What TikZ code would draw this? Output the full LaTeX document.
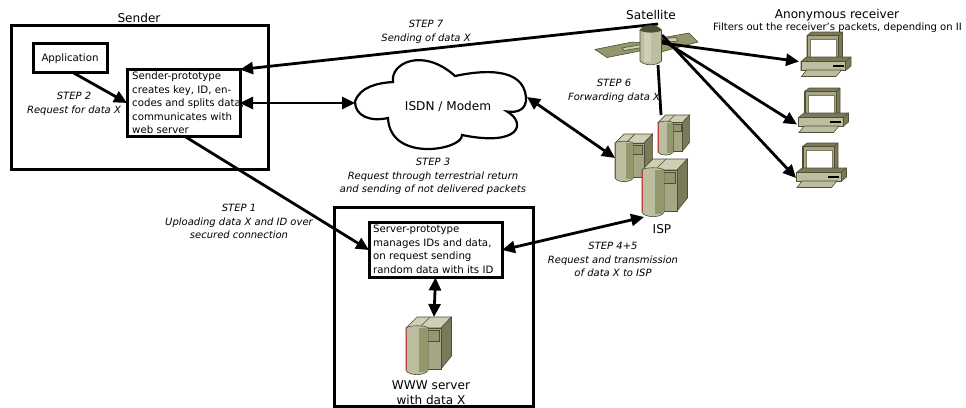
\documentclass[tikz,border=0pt]{standalone}
\usepackage{fontspec}
\setmainfont{DejaVu Sans}
\usetikzlibrary{arrows.meta}
\definecolor{kLight}{HTML}{BDBD9F}
\definecolor{kPale}{HTML}{CFCFB5}
\definecolor{kMid}{HTML}{A6A684}
\definecolor{kStripe}{HTML}{94966C}
\definecolor{kDark}{HTML}{7A7A5A}
\definecolor{kLine}{HTML}{4E4E38}
\definecolor{kRed}{HTML}{B8433A}
\tikzset{
  x=1pt,y=-1pt,
  box/.style={draw=black,line width=3pt,fill=white,outer sep=0pt,inner sep=0pt},
  hit/.style={inner sep=0pt,outer sep=0pt,anchor=north west},
  link/.style={line width=2.8pt,draw=black},
  oneway/.style={link,-{Triangle[length=13pt,width=12pt]}},
  twoway/.style={link,{Triangle[length=13pt,width=12pt]}-{Triangle[length=13pt,width=12pt]}},
  steptext/.style={font=\fontsize{10}{13.7}\selectfont\itshape,align=center,inner sep=0pt},
  boxtext/.style={font=\fontsize{10.2}{13.6}\selectfont,align=left,inner sep=0pt},
  title/.style={font=\fontsize{12.1}{14.8}\selectfont,align=center,inner sep=0pt},
  part/.style={draw=kLine,line width=.6pt},
  pics/serverpic/.style={code={
    \fill[kPale,part] (0,11) -- (11,0) -- (45.5,0) -- (35,11) -- cycle;
    \draw[part] (24,0) -- (13,11);
    \fill[kDark,part] (35,11) -- (45.5,0) -- (45.5,39) -- (35,52) -- cycle;
    \fill[kMid,part] (11,11) rectangle (35,52);
    \fill[kStripe,part] (21,13.5) rectangle (33,24);
    \fill[kLight,part] (0,11) -- (0,53.5) .. controls (3,59) and (19,59) .. (22,53.5) -- (22,11) .. controls (19,8) and (3,8) .. (0,11) -- cycle;
    \fill[kStripe] (13,11) rectangle (21.6,55);
    \draw[kRed,line width=.8pt] (0,11.5) -- (0,53);
  }},
  pics/computerpic/.style={code={
    \fill[kDark,part] (6,25) -- (6,3.5) -- (10.5,0) -- (41.5,0) -- (41.5,24.5) -- (37.5,29) -- cycle;
    \fill[kMid,part] (6.5,3.5) rectangle (37.5,29);
    \draw[part] (37.5,3.5) -- (41.5,0);
    \fill[white,draw=kDark,line width=1pt] (9.5,7) rectangle (35.5,26);
    \fill[kDark,part] (0,29.5) -- (5.5,25) -- (50,25) -- (50,34) -- (44.5,38.5) -- (0,38.5) -- cycle;
    \fill[kLight,part] (0,29.5) rectangle (44.5,38.5);
    \draw[part] (44.5,29.5) -- (50,25);
    \fill[black] (31.5,32.5) rectangle (42.5,34.5);
    \fill[kLight,part] (5.5,38) -- (40.5,38) -- (35,44.5) -- (0.5,44.5) -- cycle;
  }}
}
\begin{document}
\begin{tikzpicture}
\useasboundingbox (0,0) rectangle (966,407);
% frames
\node[box,minimum width=257pt,minimum height=144pt] (sender) at (139.5,97) {};
\node[box,minimum width=199pt,minimum height=199pt] (webframe) at (433.5,306.5) {};
\node[box,minimum width=74pt,minimum height=29pt] (app) at (70,57.5) {};
\node[box,minimum width=113pt,minimum height=67pt] (sproto) at (183.5,103) {};
\node[box,minimum width=133pt,minimum height=55pt] (srv) at (435.5,250) {};
% anchors for the pictures
\node[hit,minimum width=172pt,minimum height=94pt] (cloud) at (355,56) {};
\node[hit,minimum width=22pt,minimum height=40pt] (sat) at (640,25) {};
\node[hit,minimum width=46pt,minimum height=59pt] (www) at (406,317) {};
\node[hit,minimum width=46pt,minimum height=58pt] (ispb) at (642,159) {};
\node[hit,minimum width=38pt,minimum height=48pt] (ispm) at (615,134) {};
\node[hit,minimum width=32pt,minimum height=40pt] (isps) at (658,115) {};
\node[hit,minimum width=50pt,minimum height=45pt] (compa) at (801,32) {};
\node[hit,minimum width=49pt,minimum height=45pt] (compb) at (799,88) {};
\node[hit,minimum width=49pt,minimum height=45pt] (compc) at (797,143) {};
% cloud
\draw[line width=2.2pt,fill=white]
  (355,101.5) .. controls (360,87) and (377,83) .. (393,82)
  .. controls (390,63) and (423,47) .. (455,76)
  .. controls (483,70) and (523,67) .. (526,97)
  .. controls (527,110) and (517,113) .. (507,111.5)
  .. controls (527,123) and (520,147) .. (462,135)
  .. controls (463,150) and (390,163) .. (388,118)
  .. controls (370,122) and (355,116) .. (355,101.5) -- cycle;
% connectors
\draw[link] ([xshift=-4pt]sat.south east) -- ([xshift=-13pt]isps.north);
\draw[oneway] ([xshift=18pt,yshift=1pt]sat.north west) -- (sproto.north east);
\draw[twoway] (sproto.east) -- (cloud.west);
\draw[oneway] ([xshift=2pt]app.south) -- (sproto.west);
\draw[oneway] ([xshift=1.5pt]sproto.south) -- (srv.west);
\draw[twoway] ([yshift=6pt]cloud.east) -- (ispm.west);
\draw[twoway] (srv.east) -- ([xshift=2pt]ispb.south west);
\draw[twoway] (srv.south) -- ([xshift=5pt]www.north);
% pictures
\pic at (406,317) {serverpic};
\pic[scale=.696] at (658,115) {serverpic};
\pic[scale=.826] at (615,134) {serverpic};
\pic at (642,159) {serverpic};
\pic at (801,32) {computerpic};
\pic at (798.5,88) {computerpic};
\pic at (796.5,143) {computerpic};
% satellite panels, then its links, then its body
\fill[kStripe,part] (595,49.5) -- (632,42) -- (645,43) -- (645,50) -- (607,57.5) -- cycle;
\fill[kStripe,part] (661,38) -- (689,33) -- (698,42) -- (661,52) -- cycle;
\fill[kPale,part] (622,48) -- (645,44) -- (645,47) -- (624,50.5) -- cycle;
\fill[kPale,part] (661,39) -- (676,37.5) -- (678,41) -- (661,43) -- cycle;
\draw[oneway] ([yshift=2pt]sat.east) -- ([xshift=-2pt,yshift=-7pt]compa.west);
\draw[oneway] ([yshift=5pt]sat.east) -- ([xshift=-2pt,yshift=-14pt]compb.west);
\draw[oneway] ([yshift=10pt]sat.east) -- ([xshift=-1pt,yshift=10pt]compc.south west);
\fill[kLight,part] (640,30) -- (640,61) .. controls (644,66) and (657,66) .. (661.5,61) -- (661.5,30) -- cycle;
\fill[kPale] (644,31) rectangle (651,62);
\fill[kLine,part] (640,30) .. controls (644,24) and (657,24) .. (661.5,30) .. controls (657,33) and (644,33) .. (640,30) -- cycle;
% labels
\node[title] (tsender) at (139,18) {Sender};
\node[title] (tsat) at (651,15) {Satellite};
\node[title] (tanon) at (837,15) {Anonymous receiver};
\node[font=\fontsize{10.05}{12}\selectfont,inner sep=0pt,anchor=west] (tfilter) at (713,28) {Filters out the receiver's packets, depending on II};
\node[title] (tcloud) at (448,106) {ISDN / Modem};
\node[title] (tisp) at (662,229) {ISP};
\node[title] (twww) at (431,393) {WWW server\\with data X};
\node[font=\fontsize{10.2}{12}\selectfont,inner sep=0pt] (tapp) at (70,59) {Application};
\node[boxtext,anchor=north west] (tsproto) at (132,71.5) {Sender-prototype\\creates key, ID, en-\\codes and splits data,\\communicates with\\web server};
\node[boxtext,anchor=north west] (tsrv) at (373,225) {Server-prototype\\manages IDs and data,\\on request sending\\random data with its ID};
\node[steptext] (s7) at (426,32) {STEP 7\\Sending of data X};
\node[steptext] (s2) at (74,103.5) {STEP 2\\Request for data X};
\node[steptext] (s6) at (614,90.5) {STEP 6\\Forwarding data X};
\node[steptext] (s3) at (433,176.5) {STEP 3\\Request through terrestrial return\\and sending of not delivered packets};
\node[steptext] (s1) at (239,221.5) {STEP 1\\Uploading data X and ID over\\secured connection};
\node[steptext] (s45) at (613,259.5) {STEP 4+5\\Request and transmission\\of data X to ISP};
\end{tikzpicture}
\end{document}
